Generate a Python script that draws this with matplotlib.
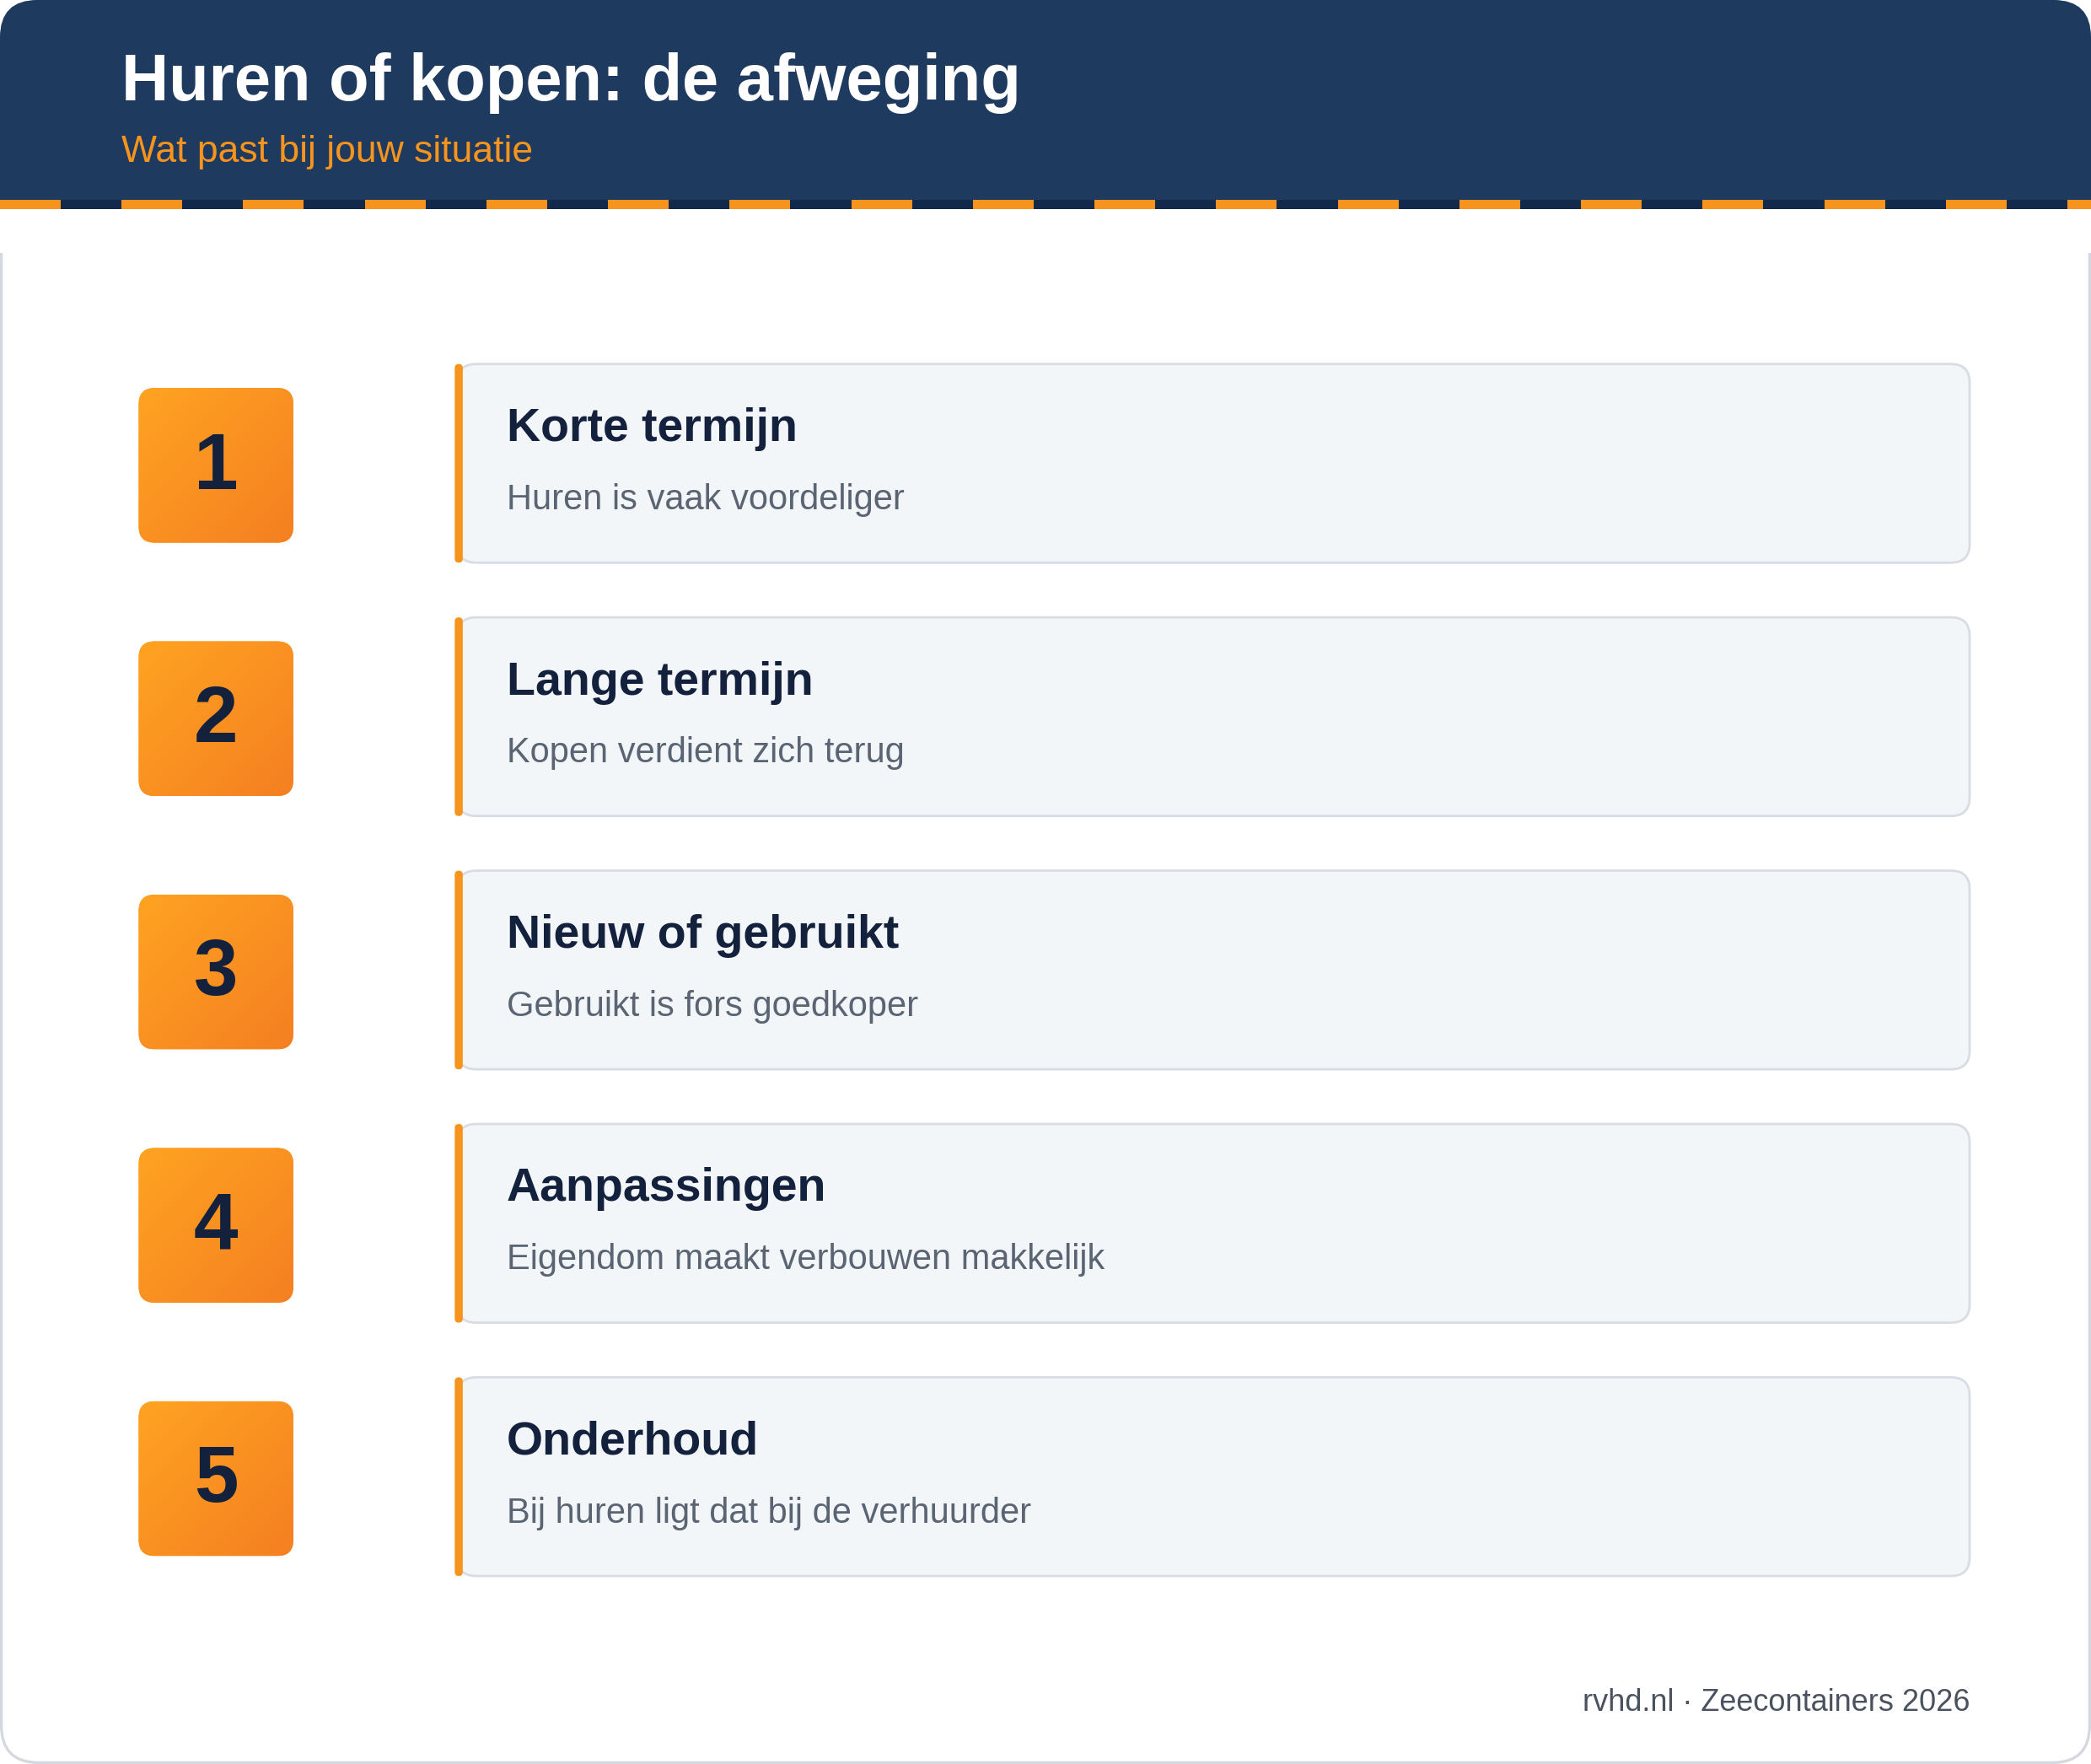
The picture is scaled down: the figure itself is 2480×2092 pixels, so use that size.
import matplotlib
matplotlib.use("Agg")
import matplotlib.pyplot as plt
from matplotlib.patches import FancyBboxPatch, Rectangle
import numpy as np

plt.rcParams['font.family'] = ['Liberation Sans', 'DejaVu Sans']

title = "Huren of kopen: de afweging"
subtitle = "Wat past bij jouw situatie"
numbers = ["1", "2", "3", "4", "5"]
headings = ["Korte termijn", "Lange termijn", "Nieuw of gebruikt", "Aanpassingen", "Onderhoud"]
descriptions = ["Huren is vaak voordeliger", "Kopen verdient zich terug",
                "Gebruikt is fors goedkoper", "Eigendom maakt verbouwen makkelijk",
                "Bij huren ligt dat bij de verhuurder"]
footer = "rvhd.nl · Zeecontainers 2026"

W, H = 1568, 1323
fig = plt.figure(figsize=(12.4, 10.46), dpi=200)
ax = fig.add_axes([0, 0, 1, 1])
ax.set_xlim(0, W); ax.set_ylim(H, 0); ax.axis('off')

NAVY = "#1f3a5f"; ORANGE = "#f7941d"; DARK = "#14213d"

# outer card
ax.add_patch(FancyBboxPatch((1, 1), W-2, H-2, boxstyle="round,pad=0,rounding_size=28",
                            fc="white", ec="#d5d9df", lw=1.2, zorder=0))
# header
hdr = FancyBboxPatch((0, 0), W, 180, boxstyle="round,pad=0,rounding_size=28",
                     fc=NAVY, ec="none", zorder=1)
ax.add_patch(hdr)
ax.add_patch(Rectangle((0, 150), W, 40, fc="white", ec="none", zorder=1.5))
ax.add_patch(Rectangle((0, 100), W, 50, fc=NAVY, ec="none", zorder=1.6))
# stripe
ax.add_patch(Rectangle((0, 150), W, 7, fc="#13294b", ec="none", zorder=2))
x = 0
while x < W:
    ax.add_patch(Rectangle((x, 150), 45.5, 7, fc=ORANGE, ec="none", zorder=2.1))
    x += 91.2

ax.text(91, 62, title, color="white", fontsize=28, fontweight="bold", va="center", zorder=3)
ax.text(91, 114, subtitle, color=ORANGE, fontsize=16, va="center", zorder=3)

grad = np.linspace(0, 1, 100)
gx, gy = np.meshgrid(grad, grad)
g = (gx + gy) / 2
c1 = np.array([1.0, 0.64, 0.13]); c2 = np.array([0.96, 0.50, 0.13])
img = c1[None, None, :] * (1 - g[..., None]) + c2[None, None, :] * g[..., None]

for i, (n, hd, ds) in enumerate(zip(numbers, headings, descriptions)):
    off = i * 190
    # number box
    bx = FancyBboxPatch((104, 291 + off), 116, 116, boxstyle="round,pad=0,rounding_size=12",
                        fc=ORANGE, ec="none", zorder=3)
    ax.add_patch(bx)
    im = ax.imshow(img, extent=(104, 220, 291 + off + 116, 291 + off), zorder=3.1, aspect='auto')
    im.set_clip_path(bx)
    ax.text(162, 351 + off, n, color=DARK, fontsize=34, fontweight="bold",
            ha="center", va="center", zorder=4)
    # card
    ax.add_patch(FancyBboxPatch((343, 273 + off), 1134, 149, boxstyle="round,pad=0,rounding_size=14",
                                fc="#f3f6f9", ec="#d8dde4", lw=1.0, zorder=3))
    ax.add_patch(FancyBboxPatch((341, 273 + off), 6, 149, boxstyle="round,pad=0,rounding_size=3",
                                fc=ORANGE, ec="none", zorder=3.5))
    ax.text(380, 322 + off, hd, color=DARK, fontsize=20, fontweight="bold", va="center", zorder=4)
    ax.text(380, 375 + off, ds, color="#5a6472", fontsize=15, va="center", zorder=4)

ax.text(1477, 1277, footer, color="#4a5260", fontsize=13, ha="right", va="center", zorder=4)

ax.set_xlim(0, W); ax.set_ylim(H, 0)
fig.savefig("out.png", dpi=200)
